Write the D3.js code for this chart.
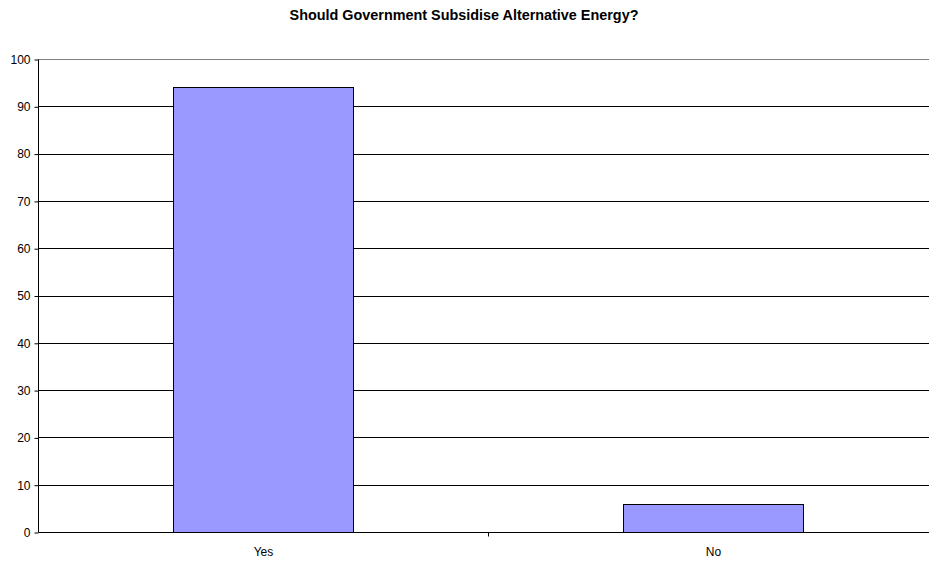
<!DOCTYPE html>
<html>
<head>
<meta charset="utf-8">
<script src="https://cdn.jsdelivr.net/npm/d3@7/dist/d3.min.js"></script>
<style>
  html, body { margin: 0; padding: 0; background: #fff; }
  svg { display: block; font-family: "Liberation Sans", Arial, sans-serif; }
</style>
</head>
<body>
<svg id="chart" width="929" height="561"></svg>
<script>
const titleText = "Should Government Subsidise Alternative Energy?";
const categories = ["Yes", "No"];
const values = [94, 6];
const yTicks = [0, 10, 20, 30, 40, 50, 60, 70, 80, 90, 100];

const svg = d3.select("#chart");
const plotLeft = 38.5, plotRight = 938.5, plotTop = 59.5, plotBottom = 532.5;

const x = d3.scaleBand().domain(categories).range([plotLeft, plotRight]).paddingInner(0).paddingOuter(0);
const y = d3.scaleLinear().domain([0, 100]).range([plotBottom, plotTop]);

// title
svg.append("text")
  .attr("x", 464).attr("y", 20)
  .attr("text-anchor", "middle")
  .attr("font-size", "14.4px").attr("font-weight", "bold")
  .text(titleText);

// horizontal gridlines (the top one doubles as the gray plot-area border)
svg.append("g").selectAll("line")
  .data(yTicks.filter(t => t > 0))
  .join("line")
  .attr("x1", plotLeft).attr("x2", plotRight)
  .attr("y1", d => Math.floor(y(d)) + 0.5).attr("y2", d => Math.floor(y(d)) + 0.5)
  .attr("stroke", d => d === 100 ? "#808080" : "#000")
  .attr("stroke-width", 1);

// bars
const barW = x.bandwidth() * 0.4;
svg.append("g").selectAll("rect")
  .data(categories.map((c, i) => ({ c, v: values[i] })))
  .join("rect")
  .attr("x", d => Math.floor(x(d.c) + (x.bandwidth() - barW) / 2) + 0.5)
  .attr("width", barW)
  .attr("y", d => Math.floor(y(d.v)) + 0.5)
  .attr("height", d => Math.floor(y(0)) - Math.floor(y(d.v)))
  .attr("fill", "#9999FF")
  .attr("stroke", "#000")
  .attr("stroke-width", 1);

// y axis
const yAxis = d3.axisLeft(y).tickValues(yTicks).tickSize(4).tickPadding(4).tickFormat(d3.format("d"));
const gy = svg.append("g").attr("transform", `translate(${plotLeft},0)`).call(yAxis);
gy.select(".domain").attr("stroke", "#000").attr("d", `M0,${plotTop}V${plotBottom}`);
gy.selectAll(".tick line").attr("stroke", "#000");
gy.selectAll(".tick text").attr("font-size", "12px").attr("fill", "#000")
  .attr("font-family", "'Liberation Sans', Arial, sans-serif");

// x axis
const xAxis = d3.axisBottom(x).tickSize(0).tickPadding(14.5);
const gx = svg.append("g").attr("transform", `translate(0,${plotBottom})`).call(xAxis);
gx.select(".domain").attr("stroke", "#000").attr("d", `M${plotLeft},0H${plotRight}`);
gx.selectAll(".tick text").attr("font-size", "12px").attr("fill", "#000")
  .attr("font-family", "'Liberation Sans', Arial, sans-serif");

// tick marks between categories
gx.append("g").selectAll("line")
  .data(categories.slice(1))
  .join("line")
  .attr("x1", d => Math.floor(x(d)) + 0.5).attr("x2", d => Math.floor(x(d)) + 0.5)
  .attr("y1", 0).attr("y2", 4)
  .attr("stroke", "#000");
</script>
</body>
</html>
